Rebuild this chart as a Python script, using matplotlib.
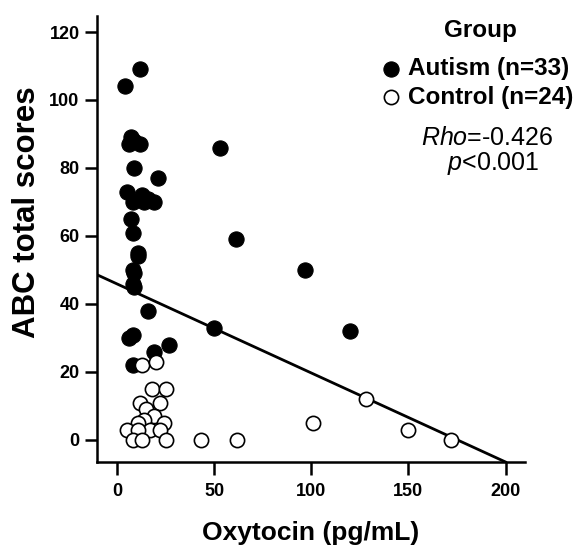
import numpy as np
import matplotlib
matplotlib.use("Agg")
from matplotlib import pyplot as plt

plt.rcParams['font.family'] = ['Liberation Sans', 'DejaVu Sans']
plt.rcParams['mathtext.fontset'] = 'custom'
plt.rcParams['mathtext.it'] = 'Liberation Sans:italic'
plt.rcParams['mathtext.rm'] = 'Liberation Sans'

# autism group (filled)
autism_x = [53, 61, 97, 50, 120, 12, 4, 7, 9, 6, 12, 9, 21, 5, 13, 19, 8, 14, 16,
            7, 8, 11, 11, 8, 9, 8, 9, 16, 6, 8, 27, 19, 8]
autism_y = [86, 59, 50, 33, 32, 109, 104, 89, 88, 87, 87, 80, 77, 73, 72, 70, 70, 70, 71,
            65, 61, 55, 54, 50, 49, 46, 45, 38, 30, 31, 28, 26, 22]

# control group (open)
control_x = [13, 20, 18, 25, 12, 22, 15, 19, 14, 11, 24, 5, 17, 22, 11, 8, 13, 25,
             43, 62, 101, 128, 150, 172]
control_y = [22, 23, 15, 15, 11, 11, 9, 7, 6, 5, 5, 3, 3, 3, 3, 0, 0, 0,
             0, 0, 5, 12, 3, 0]

# fitted line over all subjects
fit_intercept = 45.9
fit_slope = -0.262
fit_x = [-10, 200]

xticks = [0, 50, 100, 150, 200]
yticks = [0, 20, 40, 60, 80, 100, 120]

fig = plt.figure(figsize=(5.87, 5.51), dpi=100)
ax = fig.add_axes([0.1652, 0.1615, 0.7292, 0.8094])

ax.scatter(autism_x, autism_y, s=120, c='black', edgecolors='black', linewidths=0.8,
           label='Autism (n=33)', zorder=3)
ax.scatter(control_x, control_y, s=105, facecolors='white', edgecolors='black', linewidths=1.2,
           label='Control (n=24)', zorder=3)

fx = np.array(fit_x, dtype=float)
ax.plot(fx, fit_intercept + fit_slope * fx, color='black', lw=2.0, zorder=2)

ax.set_xlim(-10.3, 210)
ax.set_ylim(-6.5, 124.7)
ax.set_xticks(xticks)
ax.set_yticks(yticks)
for s in ['top', 'right']:
    ax.spines[s].set_visible(False)
for s in ['left', 'bottom']:
    ax.spines[s].set_linewidth(1.8)
ax.tick_params(width=1.8, length=9, labelsize=13)
ax.tick_params(axis='x', pad=6)
ax.tick_params(axis='y', pad=3.5)
for lab in ax.get_xticklabels() + ax.get_yticklabels():
    lab.set_fontweight('bold')

ax.set_xlabel('Oxytocin (pg/mL)', fontsize=19, fontweight='bold', labelpad=15)
ax.set_ylabel('ABC total scores', fontsize=22.5, fontweight='bold')
ax.yaxis.set_label_coords(-0.129, 0.56)

leg = ax.legend(loc='center right', bbox_to_anchor=(1.113, 0.8498),
                frameon=False, handletextpad=0.3, borderaxespad=0, borderpad=0,
                labelspacing=0.22, handlelength=0.8,
                prop={'size': 17.5, 'weight': 'bold'})
ax.text(0.897, 0.9686, 'Group', transform=ax.transAxes, fontsize=17.5,
        fontweight='bold', ha='center', va='center')

ax.text(0.911, 0.7265, r'$\mathit{Rho}$=-0.426', transform=ax.transAxes, fontsize=18,
        ha='center', va='center')
ax.text(0.925, 0.670, r'$\mathit{p}$<0.001', transform=ax.transAxes, fontsize=18,
        ha='center', va='center')

plt.savefig('out.png', dpi=100)
